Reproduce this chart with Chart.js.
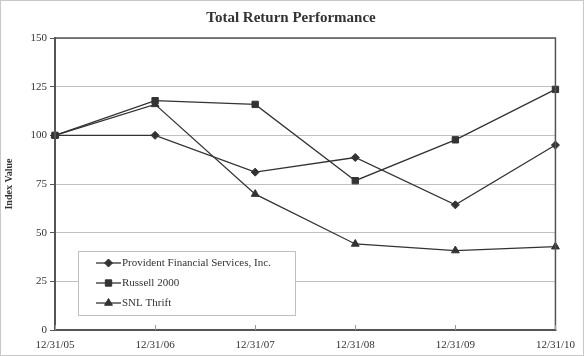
<!DOCTYPE html>
<html><head><meta charset="utf-8">
<script src="https://cdn.jsdelivr.net/npm/chart.js@4/dist/chart.umd.min.js"></script>
<style>html,body{margin:0;padding:0;background:#fff}#wrap{width:584px;height:356px;position:relative}</style>
</head><body><div id="wrap"><canvas id="c" width="584" height="356"></canvas></div>
<script>
const categories = ['12/31/05','12/31/06','12/31/07','12/31/08','12/31/09','12/31/10'];
const provident = [100, 100, 81.1, 88.6, 64.3, 95.0];
const russell = [100, 117.8, 115.9, 76.7, 97.7, 123.6];
const snlThrift = [100, 115.9, 69.8, 44.2, 40.8, 42.8];
const yTicks = [0, 25, 50, 75, 100, 125, 150];
const titleText = 'Total Return Performance';
const yTitle = 'Index Value';

const FONT = "'Liberation Serif', 'Times New Roman', serif";
const DARK = '#333333';
const AXIS = '#555555';

const decor = {
  id: 'decor',
  beforeDraw(chart) {
    const ctx = chart.ctx;
    ctx.save();
    ctx.fillStyle = '#fff';
    ctx.fillRect(0, 0, chart.width, chart.height);
    ctx.strokeStyle = '#c8c8c8';
    ctx.lineWidth = 1;
    ctx.strokeRect(0.5, 0.5, chart.width - 1, chart.height - 1);
    ctx.restore();
  },
  afterDatasetsDraw(chart) {
    const ctx = chart.ctx;
    const a = chart.chartArea;
    const xs = chart.scales.x;
    ctx.save();
    // plot frame
    ctx.strokeStyle = AXIS;
    ctx.lineWidth = 1.5;
    ctx.beginPath();
    ctx.moveTo(a.left, a.top); ctx.lineTo(a.right, a.top); ctx.lineTo(a.right, a.bottom);
    ctx.stroke();
    ctx.lineWidth = 2;
    ctx.beginPath();
    ctx.moveTo(a.left, a.top - 1); ctx.lineTo(a.left, a.bottom); ctx.lineTo(a.right + 1, a.bottom);
    ctx.stroke();
    // x ticks inside
    ctx.strokeStyle = '#999';
    ctx.lineWidth = 1;
    categories.forEach((c, i) => {
      const x = Math.round(xs.getPixelForValue(i)) + 0.5;
      ctx.beginPath(); ctx.moveTo(x, a.bottom); ctx.lineTo(x, a.bottom - 5); ctx.stroke();
    });
    // title
    ctx.fillStyle = DARK;
    ctx.font = 'bold 15px ' + FONT;
    ctx.textAlign = 'center';
    ctx.textBaseline = 'middle';
    ctx.fillText(titleText, 291, 18);
    // y title
    ctx.save();
    ctx.translate(9, (a.top + a.bottom) / 2);
    ctx.rotate(-Math.PI / 2);
    ctx.font = 'bold 10px ' + FONT;
    ctx.fillText(yTitle, 0, 0);
    ctx.restore();
    // legend
    const bx = 78, by = 251, bw = 217, bh = 64;
    ctx.fillStyle = '#fff';
    ctx.fillRect(bx, by, bw, bh);
    ctx.strokeStyle = '#c0c0c0';
    ctx.lineWidth = 1;
    ctx.strokeRect(bx + 0.5, by + 0.5, bw, bh);
    chart.data.datasets.forEach((ds, i) => {
      const y = 263 + i * 20;
      ctx.strokeStyle = DARK;
      ctx.fillStyle = DARK;
      ctx.lineWidth = 1.3;
      ctx.beginPath(); ctx.moveTo(96, y); ctx.lineTo(121, y); ctx.stroke();
      ctx.lineWidth = 1;
      Chart.helpers.drawPoint(ctx, {pointStyle: ds.pointStyle, radius: ds.pointRadius, borderWidth: 1}, 108.5, y);
      ctx.fillStyle = DARK;
      ctx.font = '11px ' + FONT;
      ctx.textAlign = 'left';
      ctx.textBaseline = 'middle';
      ctx.fillText(ds.label, 122, y);
    });
    ctx.restore();
  }
};

const common = {
  borderColor: DARK, backgroundColor: DARK, pointBackgroundColor: DARK, pointBorderColor: DARK,
  borderWidth: 1.3, fill: false, tension: 0, pointBorderWidth: 1
};

new Chart(document.getElementById('c'), {
  type: 'line',
  data: {
    labels: categories,
    datasets: [
      Object.assign({label: 'Provident Financial Services, Inc.', data: provident, pointStyle: 'rectRot', pointRadius: 4}, common),
      Object.assign({label: 'Russell 2000', data: russell, pointStyle: 'rect', pointRadius: 4.5}, common),
      Object.assign({label: 'SNL Thrift', data: snlThrift, pointStyle: 'triangle', pointRadius: 4.5}, common)
    ]
  },
  options: {
    responsive: false, animation: false, devicePixelRatio: 1,
    layout: {padding: {left: 0, right: 28, top: 38, bottom: 0}},
    plugins: {legend: {display: false}, title: {display: false}, tooltip: {enabled: false}},
    elements: {point: {hoverRadius: 4}},
    scales: {
      x: {
        offset: false,
        grid: {display: false, drawTicks: false},
        border: {display: false},
        ticks: {color: DARK, font: {family: FONT, size: 11}, padding: 9, maxRotation: 0, autoSkip: false},
        afterFit(s) { s.height = 26; }
      },
      y: {
        min: 0, max: 150,
        afterBuildTicks(s) { s.ticks = yTicks.map(v => ({value: v})); },
        grid: {color: '#c0c0c0', lineWidth: 1, drawTicks: true, tickLength: 5, tickColor: AXIS},
        border: {display: false},
        ticks: {color: DARK, font: {family: FONT, size: 11}, padding: 3},
        afterFit(s) { s.width = 55; }
      }
    }
  },
  plugins: [decor]
});
</script></body></html>
